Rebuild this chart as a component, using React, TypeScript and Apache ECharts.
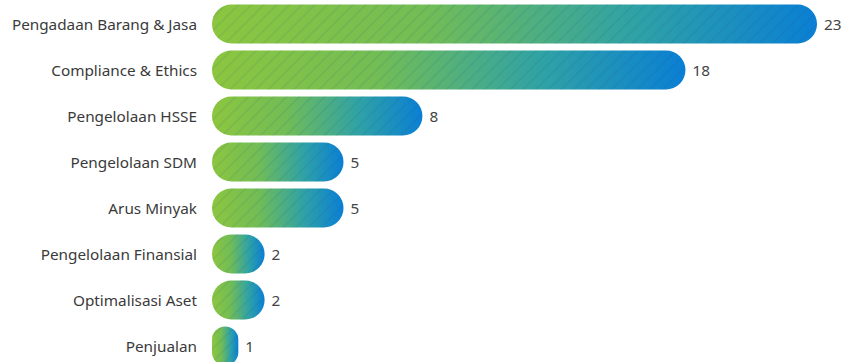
import React, { useEffect, useRef } from "react";
import * as echarts from "echarts";

const categories = [
  "Pengadaan Barang & Jasa",
  "Compliance & Ethics",
  "Pengelolaan HSSE",
  "Pengelolaan SDM",
  "Arus Minyak",
  "Pengelolaan Finansial",
  "Optimalisasi Aset",
  "Penjualan",
];
const values = [23, 18, 8, 5, 5, 2, 2, 1];

export default function App() {
  const ref = useRef<HTMLDivElement>(null);
  useEffect(() => {
    if (!ref.current) return;
    const chart = echarts.init(ref.current, undefined, { renderer: "svg" });
    const grad = new echarts.graphic.LinearGradient(0, 0, 1, 0, [
      { offset: 0, color: "#8cc63f" },
      { offset: 0.35, color: "#72bd55" },
      { offset: 0.7, color: "#2fa2a6" },
      { offset: 1, color: "#0a7fd4" },
    ]);
    chart.setOption({
      animation: false,
      aria: { enabled: true, decal: { show: true } },
      grid: { left: 212, right: 27, top: 1, bottom: 1, containLabel: false },
      xAxis: {
        type: "value",
        min: 0,
        max: 23,
        show: false,
      },
      yAxis: {
        type: "category",
        inverse: true,
        data: categories,
        axisLine: { show: false },
        axisTick: { show: false },
        axisLabel: {
          margin: 15,
          color: "#3a3a3a",
          fontSize: 15.3,
          fontFamily: "Noto Sans",
        },
      },
      series: [
        {
          type: "bar",
          data: values,
          barWidth: 39,
          itemStyle: {
            color: grad,
            borderRadius: 20,
            decal: {
              symbol: "rect",
              color: "rgba(20,60,120,0.08)",
              dashArrayX: [1, 0],
              dashArrayY: [2, 7],
              rotation: -Math.PI / 4,
            },
          },
          label: {
            show: true,
            position: "right",
            distance: 7,
            color: "#444",
            fontSize: 15.3,
            fontFamily: "Noto Sans",
          },
        },
      ],
    });
    return () => chart.dispose();
  }, []);
  return (
    <div style={{ position: "absolute", left: 0, top: 0, width: 844, height: 362, overflow: "hidden", background: "#fff" }}>
      <div ref={ref} style={{ width: 844, height: 370 }} />
    </div>
  );
}
